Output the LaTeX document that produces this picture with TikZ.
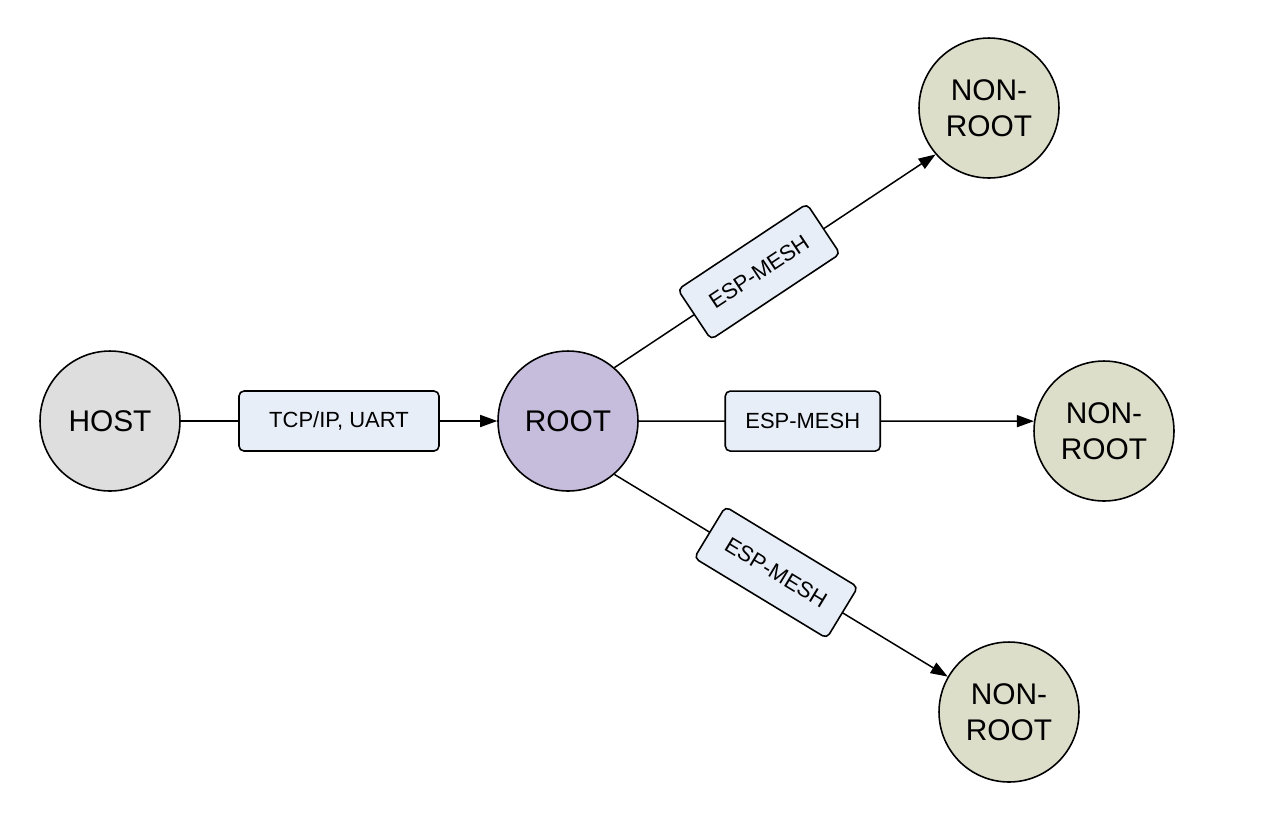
\documentclass[tikz,border=0pt]{standalone}
\usepackage{fontspec}
\setmainfont{Liberation Sans}
\usepackage[HTML]{xcolor}
\usetikzlibrary{positioning, arrows, arrows.meta}

\definecolor{hostgray}{HTML}{DEDEDE}
\definecolor{rootpurple}{HTML}{C6BCDB}
\definecolor{meshgreen}{HTML}{DCDECA}
\definecolor{linkblue}{HTML}{E8EEF7}

\tikzset{
  device/.style={circle, draw=black, line width=0.9pt, minimum size=2.8cm, inner sep=0pt,
    align=center, font=\fontsize{17}{20.5}\selectfont},
  linkbox/.style={draw=black, fill=linkblue, rounded corners=0.1cm, line width=0.9pt,
    minimum height=1.2cm, minimum width=3.1cm, font=\fontsize{12.5}{15}\selectfont},
  conn/.style={line width=0.85pt, -{Triangle[length=0.34cm,width=0.24cm]}}
}

\begin{document}
\begin{tikzpicture}[x=0.02cm, y=-0.02cm]
\useasboundingbox (0,0) rectangle (1265,823);

% --- devices ---
\node[device, fill=hostgray] (host) at (110,421) {HOST};
\node[device, fill=rootpurple] (root) at (568,421) {ROOT};
\node[device, fill=meshgreen] (nrtop) at (989,108) {NON-\\ROOT};
\node[device, fill=meshgreen] (nrmid) at (1104,431) {NON-\\ROOT};
\node[device, fill=meshgreen] (nrbot) at (1009,712) {NON-\\ROOT};

% --- links ---
\draw[conn] (host) -- node[linkbox, minimum width=4cm] {TCP/IP, UART} (root);
\draw[conn] (root.49) -- node[linkbox, sloped, pos=0.45] {ESP-MESH} (nrtop.221);
\draw[conn] (root) -- node[linkbox, pos=0.415] {ESP-MESH} (nrmid.172);
\draw[conn] (root.-49) -- node[linkbox, sloped, pos=0.485] {ESP-MESH} (nrbot.150);

\end{tikzpicture}
\end{document}
